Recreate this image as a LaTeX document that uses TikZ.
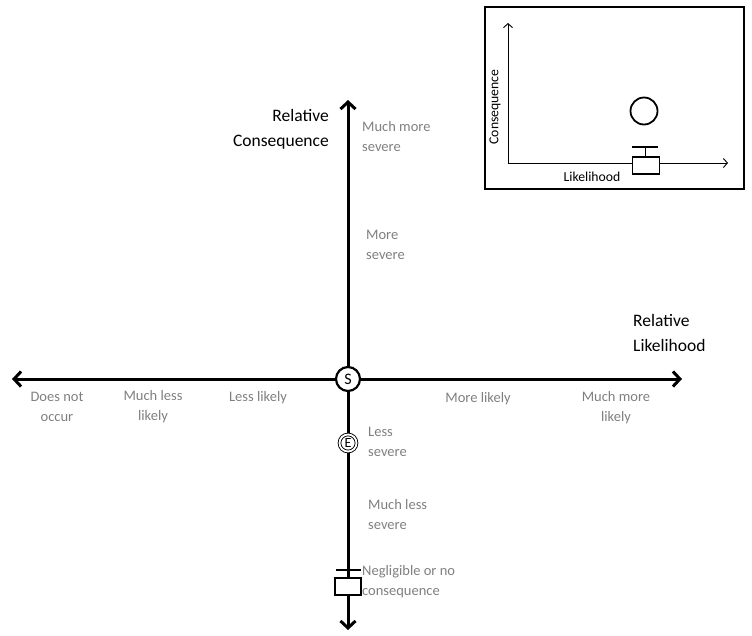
\documentclass[tikz,border=0pt]{standalone}
\usepackage{fontspec}
\setmainfont{Carlito}
\usetikzlibrary{arrows.meta}
\definecolor{lbl}{HTML}{7F7F7F}
\begin{document}
\begin{tikzpicture}[x=1pt,y=-1pt,
  grey/.style={text=lbl,font=\fontsize{14.5}{20}\selectfont,inner sep=0pt},
  head/.style={text=black,font=\fontsize{17.5}{25}\selectfont,inner sep=0pt},
  axis/.style={line width=3pt,-{Straight Barb[length=7pt,width=15pt,line width=3pt]}},
  smallaxis/.style={line width=0.9pt,-{Straight Barb[length=4pt,width=9pt,line width=0.9pt]}},
  small/.style={font=\fontsize{13.7}{16}\selectfont,inner sep=0pt}]
\useasboundingbox (0,0) rectangle (752,635);

% main axes end points
\coordinate (top) at (348,100);
\coordinate (bot) at (348,630);
\coordinate (lft) at (12,379);
\coordinate (rgt) at (682,379);
\coordinate (O) at (348,379);

\draw[axis] (O) -- (top);
\draw[axis] (O) -- (bot);
\draw[axis] (O) -- (lft);
\draw[axis] (O) -- (rgt);

\node[circle,draw,line width=2.2pt,fill=white,minimum size=24pt,inner sep=0pt,
  font=\fontsize{16}{16}\selectfont] (S) at (O) {S};
\node[circle,draw,line width=0.9pt,double,double distance=1.8pt,fill=white,
  minimum size=17pt,inner sep=0pt,font=\fontsize{14}{14}\selectfont] (E) at (348,443) {E};
\node[draw,line width=2.4pt,fill=white,minimum width=26pt,minimum height=17pt,inner sep=0pt] (box) at (348,586.5) {};
\coordinate (barL) at (336,570);
\coordinate (barR) at (361,570);
\draw[line width=2.4pt] (barL) -- (barR);

% axis titles
\node[head,align=right,anchor=east] (relc) at (329,129) {Relative\\Consequence};
\node[head,align=left,anchor=west] (rell) at (633,333) {Relative\\Likelihood};

% vertical labels
\node[grey,align=left,anchor=west] (mms) at (362,137) {Much more\\severe};
\node[grey,align=left,anchor=west] (ms) at (366,245) {More\\severe};
\node[grey,align=left,anchor=west] (ls) at (368,442) {Less\\severe};
\node[grey,align=left,anchor=west] (mls) at (368,515) {Much less\\severe};
\node[grey,align=left,anchor=west] (neg) at (362,582) {Negligible or no\\consequence};

% horizontal labels
\node[grey,align=center] (dno) at (57,407) {Does not\\occur};
\node[grey,align=center] (mll) at (153,407) {Much less\\likely};
\node[grey,align=center] (ll) at (258,398) {Less likely};
\node[grey,align=center] (ml) at (478,399) {More likely};
\node[grey,align=center] (mml) at (616,408) {Much more\\likely};

% inset
\node[draw,line width=2pt,minimum width=259pt,minimum height=182pt,inner sep=0pt,anchor=north west] (inset) at (484,6) {};
\coordinate (io) at (508,163);
\coordinate (itop) at (508,23);
\coordinate (irgt) at (728,163);
\draw[smallaxis] (io) -- (itop);
\draw[smallaxis] (io) -- (irgt);
\node[circle,draw,line width=1.8pt,minimum size=27pt,inner sep=0pt] (ic) at (644,111) {};
\coordinate (ibarL) at (632,147);
\coordinate (ibarR) at (658,147);
\draw[line width=1.8pt] (ibarL) -- (ibarR);
\node[draw,line width=1.8pt,fill=white,minimum width=27pt,minimum height=17pt,inner sep=0pt] (ibox) at (646,165.5) {};
\coordinate (istem) at (645,147);
\draw[line width=1pt] (istem) -- (istem |- ibox.north);
\node[small] (ilik) at (592,177) {Likelihood};
\node[small,rotate=90] (icon) at (495,107) {Consequence};
\end{tikzpicture}
\end{document}
